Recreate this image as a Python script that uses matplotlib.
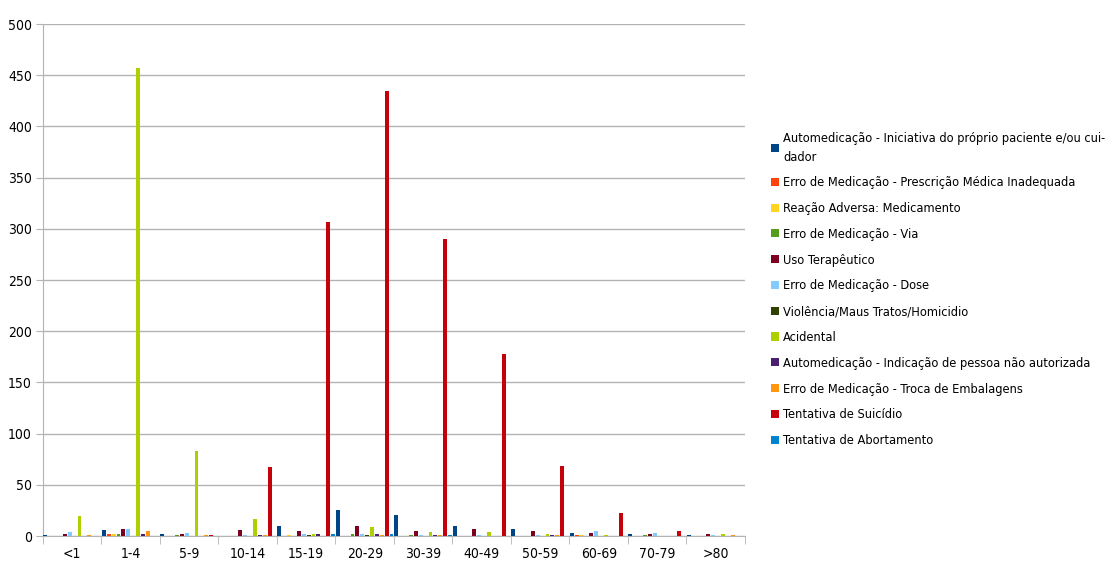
import numpy as np
import matplotlib
matplotlib.use("Agg")
import matplotlib.pyplot as plt
from matplotlib.ticker import FixedLocator

plt.rcParams['font.family'] = ['DejaVu Sans']
plt.rcParams['font.stretch'] = 'condensed'

faixas = ['<1', '1-4', '5-9', '10-14', '15-19', '20-29', '30-39',
          '40-49', '50-59', '60-69', '70-79', '>80']

series = [
    'Automedicação - Iniciativa do próprio paciente e/ou cui-\ndador',
    'Erro de Medicação - Prescrição Médica Inadequada',
    'Reação Adversa: Medicamento',
    'Erro de Medicação - Via',
    'Uso Terapêutico',
    'Erro de Medicação - Dose',
    'Violência/Maus Tratos/Homicidio',
    'Acidental',
    'Automedicação - Indicação de pessoa não autorizada',
    'Erro de Medicação - Troca de Embalagens',
    'Tentativa de Suicídio',
    'Tentativa de Abortamento',
]

cores = ['#004586', '#ff420e', '#ffd320', '#579d1c', '#7e0021', '#83caff',
         '#314004', '#aecf00', '#4b1f6f', '#ff950e', '#c5000b', '#0084d1']

automed_inic = [1, 6, 2, 0, 10, 25, 21, 10, 7, 3, 2, 1]
prescricao   = [0, 2, 0, 0, 0, 0, 0, 0, 0, 1, 0, 0]
reacao       = [0, 2, 0, 0, 1, 0, 0, 0, 0, 1, 0, 0]
via          = [0, 2, 1, 0, 0, 2, 1, 0, 0, 0, 1, 0]
uso_terap    = [2, 7, 2, 6, 5, 10, 5, 7, 5, 3, 2, 2]
dose         = [4, 7, 3, 1, 2, 2, 1, 1, 1, 5, 3, 1]
violencia    = [0, 0, 0, 0, 1, 1, 0, 0, 0, 0, 0, 0]
acidental    = [20, 457, 83, 17, 2, 9, 4, 4, 2, 1, 0, 2]
automed_ind  = [0, 2, 0, 1, 2, 2, 1, 0, 1, 0, 0, 0]
troca        = [1, 5, 1, 1, 0, 1, 1, 0, 1, 0, 0, 1]
suicidio     = [0, 0, 1, 67, 307, 435, 290, 178, 68, 22, 5, 0]
abortamento  = [0, 0, 0, 0, 2, 2, 1, 0, 0, 0, 0, 0]

valores = [automed_inic, prescricao, reacao, via, uso_terap, dose,
           violencia, acidental, automed_ind, troca, suicidio, abortamento]

fig = plt.figure(figsize=(11.16, 5.65), dpi=100)
ax = fig.add_axes([0.0385, 0.0513, 0.629, 0.9062])

n = len(series)
passo = 1.0 / n
x = np.arange(len(faixas))
for i, (nome, vals, cor) in enumerate(zip(series, valores, cores)):
    pos = x - 0.5 + passo * (i + 0.5)
    ax.bar(pos, vals, width=passo * 0.8, color=cor, label=nome, zorder=3)

ax.set_xlim(-0.5, len(faixas) - 0.5)
ax.set_ylim(0, 500)
ax.set_yticks(np.arange(0, 501, 50))
ax.grid(axis='y', color='#b3b3b3', linewidth=1, zorder=0)

ax.set_xticks(x)
ax.set_xticklabels(faixas)
ax.xaxis.set_minor_locator(FixedLocator(np.arange(-0.5, len(faixas), 1.0)))
ax.tick_params(axis='x', which='major', length=0, pad=8, labelsize=10)
ax.tick_params(axis='x', which='minor', length=6, color='#b3b3b3')
ax.tick_params(axis='y', length=5, color='#b3b3b3', labelsize=10, pad=3)

for s in ['top', 'right']:
    ax.spines[s].set_visible(False)
for s in ['left', 'bottom']:
    ax.spines[s].set_color('#b3b3b3')

leg = ax.legend(loc='upper left', bbox_to_anchor=(1.03, 0.80), frameon=False,
                fontsize=9.2, handlelength=0.6, handleheight=0.6,
                handletextpad=0.35, labelspacing=1.0, borderaxespad=0)
leg.get_texts()[0].set_linespacing(1.6)

fig.savefig('out.png', dpi=100)
